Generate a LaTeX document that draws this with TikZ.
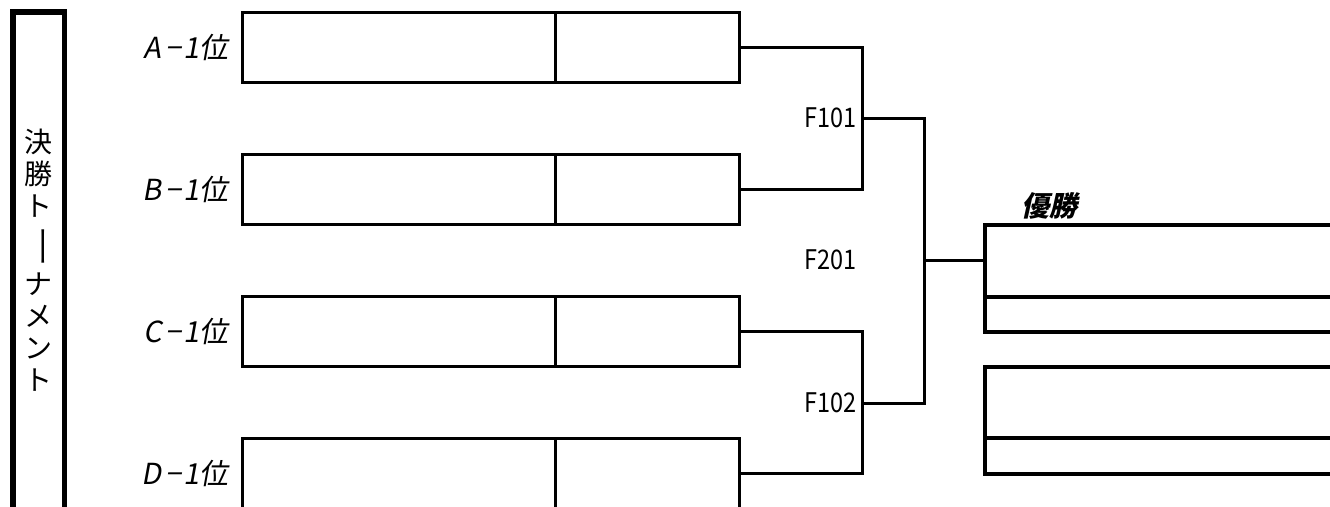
\documentclass[tikz,border=0pt]{standalone}
\usepackage{fontspec}
\setmainfont{Noto Sans CJK JP}
\newfontfamily\lblfont[FakeSlant=0.18]{Noto Sans CJK JP}
\newfontfamily\numfont[FakeStretch=0.87]{Noto Sans CJK JP}
\newfontfamily\winfont[FakeSlant=0.22]{Noto Sans CJK JP}
\newcommand\longbar{\rotatebox[origin=c]{-90}{\scalebox{1.5}[1]{ー}}}
\begin{document}
\begin{tikzpicture}[x=1pt,y=-1pt,line join=miter,
  team/.style={draw,line width=3pt,minimum width=497pt,minimum height=70pt,inner sep=0pt,outer sep=0pt},
  winbox/.style={draw,line width=3.5pt,minimum width=415pt,minimum height=107pt,inner sep=0pt,outer sep=0pt},
  conn/.style={line width=3pt},
  lbl/.style={anchor=east,inner sep=0pt,font=\lblfont\fontsize{29}{32}\selectfont},
  mlbl/.style={anchor=east,inner sep=0pt,font=\numfont\fontsize{27}{30}\selectfont},
  wlbl/.style={inner sep=0pt,font=\winfont\bfseries\fontsize{28}{30}\selectfont},
  frame/.style={draw,line width=5.5pt,minimum width=51.5pt,minimum height=528pt,inner sep=0pt,outer sep=0pt}]
\useasboundingbox (0,0) rectangle (1330,506);
\clip (0,0) rectangle (1330,506);
% left frame and title
\node[frame] (frm) at (38.75,276) {};
\node[inner sep=0pt,align=center,font=\fontsize{28}{32}\selectfont] (title) at (38.5,260)
  {決\\勝\\ト\\[4pt]\longbar\\[4pt]ナ\\メ\\ン\\ト};
% team boxes
\node[team] (A) at (490.5,47.5) {};
\node[team] (B) at (490.5,189.5) {};
\node[team] (C) at (490.5,331.5) {};
\node[team] (D) at (490.5,473.5) {};
\coordinate (dx) at (555,0);
\foreach \n in {A,B,C,D}{\draw[conn] (\n.north -| dx) -- (\n.south -| dx);}
% labels
\node[lbl] (la) at (229,47.5) {A\hspace{4pt}−\hspace{2pt}1位};
\node[lbl] (lb) at (229,189.5) {B\hspace{4pt}−\hspace{2pt}1位};
\node[lbl] (lc) at (229,331.5) {C\hspace{4pt}−\hspace{2pt}1位};
\node[lbl] (ld) at (229,473.5) {D\hspace{4pt}−\hspace{2pt}1位};
% winner boxes
\node[winbox] (W1) at (1192.5,278.5) {};
\node[winbox] (W2) at (1192.5,420.5) {};
\coordinate (wd) at (0,297);
\coordinate (wd2) at (0,438);
\draw[line width=3.5pt] (W1.west |- wd) -- (W1.east |- wd);
\draw[line width=3.5pt] (W2.west |- wd2) -- (W2.east |- wd2);
\node[wlbl] (win) at (1049,205.5) {優勝};
% brackets
\coordinate (j1) at (862,118);
\coordinate (j2) at (862,403);
\coordinate (f1) at (924,118);
\coordinate (f2) at (924,403);
\coordinate (j3) at (924,260);
\draw[conn] (A.east) -| (j1) |- (B.east);
\draw[conn] (C.east) -| (j2) |- (D.east);
\draw[conn] (j1) -- (f1) -- (f2) -- (j2);
\draw[conn] (j3) -- (j3 -| W1.west);
% match labels
\node[mlbl] (m1) at (857,118) {F101};
\node[mlbl] (m3) at (857,260) {F201};
\node[mlbl] (m2) at (857,403) {F102};
\end{tikzpicture}
\end{document}
